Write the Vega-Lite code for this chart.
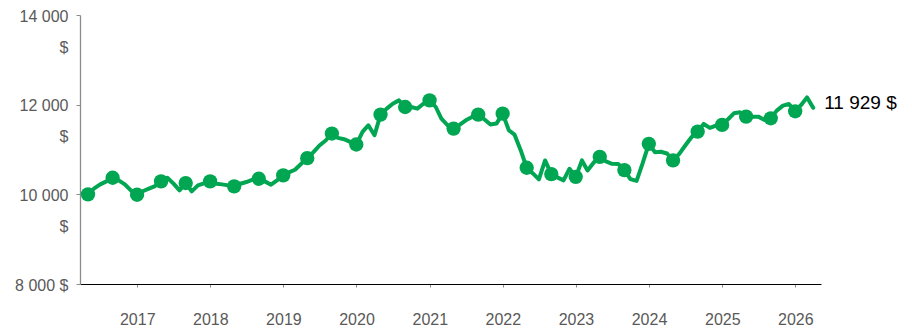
{
  "$schema": "https://vega.github.io/schema/vega-lite/v6.json",
  "width": 741,
  "height": 269,
  "autosize": {"type": "none"},
  "padding": {"left": 80, "top": 15, "right": 91, "bottom": 44},
  "background": "white",
  "config": {
    "view": {"stroke": null},
    "font": "Liberation Sans"
  },
  "datasets": {
    "series": [
      {"date": "2016-04-30", "value": 10000, "m": 1},
      {"date": "2016-05-31", "value": 10133},
      {"date": "2016-06-30", "value": 10222},
      {"date": "2016-07-31", "value": 10289},
      {"date": "2016-08-31", "value": 10370, "m": 1},
      {"date": "2016-09-30", "value": 10311},
      {"date": "2016-10-31", "value": 10222},
      {"date": "2016-11-30", "value": 10089},
      {"date": "2016-12-31", "value": 9990, "m": 1},
      {"date": "2017-01-31", "value": 10074},
      {"date": "2017-02-28", "value": 10126},
      {"date": "2017-03-31", "value": 10185},
      {"date": "2017-04-30", "value": 10289, "m": 1},
      {"date": "2017-05-31", "value": 10371},
      {"date": "2017-06-30", "value": 10244},
      {"date": "2017-07-31", "value": 10089},
      {"date": "2017-08-31", "value": 10252, "m": 1},
      {"date": "2017-09-30", "value": 10067},
      {"date": "2017-10-31", "value": 10200},
      {"date": "2017-11-30", "value": 10244},
      {"date": "2017-12-31", "value": 10289, "m": 1},
      {"date": "2018-01-31", "value": 10237},
      {"date": "2018-02-28", "value": 10222},
      {"date": "2018-03-31", "value": 10200},
      {"date": "2018-04-30", "value": 10178, "m": 1},
      {"date": "2018-05-31", "value": 10237},
      {"date": "2018-06-30", "value": 10274},
      {"date": "2018-07-31", "value": 10326},
      {"date": "2018-08-31", "value": 10348, "m": 1},
      {"date": "2018-09-30", "value": 10289},
      {"date": "2018-10-31", "value": 10215},
      {"date": "2018-11-30", "value": 10311},
      {"date": "2018-12-31", "value": 10422, "m": 1},
      {"date": "2019-01-31", "value": 10496},
      {"date": "2019-02-28", "value": 10548},
      {"date": "2019-03-31", "value": 10681},
      {"date": "2019-04-30", "value": 10807, "m": 1},
      {"date": "2019-05-31", "value": 10941},
      {"date": "2019-06-30", "value": 11089},
      {"date": "2019-07-31", "value": 11200},
      {"date": "2019-08-31", "value": 11356, "m": 1},
      {"date": "2019-09-30", "value": 11259},
      {"date": "2019-10-31", "value": 11230},
      {"date": "2019-11-30", "value": 11170},
      {"date": "2019-12-31", "value": 11111, "m": 1},
      {"date": "2020-01-31", "value": 11393},
      {"date": "2020-02-29", "value": 11541},
      {"date": "2020-03-31", "value": 11319},
      {"date": "2020-04-30", "value": 11778, "m": 1},
      {"date": "2020-05-31", "value": 11911},
      {"date": "2020-06-30", "value": 12022},
      {"date": "2020-07-31", "value": 12096},
      {"date": "2020-08-31", "value": 11948, "m": 1},
      {"date": "2020-09-30", "value": 11948},
      {"date": "2020-10-31", "value": 11911},
      {"date": "2020-11-30", "value": 12022},
      {"date": "2020-12-31", "value": 12096, "m": 1},
      {"date": "2021-01-31", "value": 11948},
      {"date": "2021-02-28", "value": 11689},
      {"date": "2021-03-31", "value": 11541},
      {"date": "2021-04-30", "value": 11467, "m": 1},
      {"date": "2021-05-31", "value": 11556},
      {"date": "2021-06-30", "value": 11652},
      {"date": "2021-07-31", "value": 11726},
      {"date": "2021-08-31", "value": 11778, "m": 1},
      {"date": "2021-09-30", "value": 11674},
      {"date": "2021-10-31", "value": 11556},
      {"date": "2021-11-30", "value": 11578},
      {"date": "2021-12-31", "value": 11800, "m": 1},
      {"date": "2022-01-31", "value": 11430},
      {"date": "2022-02-28", "value": 11333},
      {"date": "2022-03-31", "value": 10985},
      {"date": "2022-04-30", "value": 10593, "m": 1},
      {"date": "2022-05-31", "value": 10467},
      {"date": "2022-06-30", "value": 10333},
      {"date": "2022-07-31", "value": 10756},
      {"date": "2022-08-31", "value": 10452, "m": 1},
      {"date": "2022-09-30", "value": 10378},
      {"date": "2022-10-31", "value": 10311},
      {"date": "2022-11-30", "value": 10570},
      {"date": "2022-12-31", "value": 10390, "m": 1},
      {"date": "2023-01-31", "value": 10756},
      {"date": "2023-02-28", "value": 10533},
      {"date": "2023-03-31", "value": 10711},
      {"date": "2023-04-30", "value": 10836, "m": 1},
      {"date": "2023-05-31", "value": 10733},
      {"date": "2023-06-30", "value": 10681},
      {"date": "2023-07-31", "value": 10678},
      {"date": "2023-08-31", "value": 10540, "m": 1},
      {"date": "2023-09-30", "value": 10340},
      {"date": "2023-10-31", "value": 10300},
      {"date": "2023-11-30", "value": 10689},
      {"date": "2023-12-31", "value": 11126, "m": 1},
      {"date": "2024-01-31", "value": 10940},
      {"date": "2024-02-29", "value": 10950},
      {"date": "2024-03-31", "value": 10911},
      {"date": "2024-04-30", "value": 10756, "m": 1},
      {"date": "2024-05-31", "value": 10904},
      {"date": "2024-06-30", "value": 11089},
      {"date": "2024-07-31", "value": 11274},
      {"date": "2024-08-31", "value": 11400, "m": 1},
      {"date": "2024-09-30", "value": 11570},
      {"date": "2024-10-31", "value": 11481},
      {"date": "2024-11-30", "value": 11533},
      {"date": "2024-12-31", "value": 11548, "m": 1},
      {"date": "2025-01-31", "value": 11681},
      {"date": "2025-02-28", "value": 11807},
      {"date": "2025-03-31", "value": 11830},
      {"date": "2025-04-30", "value": 11733, "m": 1},
      {"date": "2025-05-31", "value": 11733},
      {"date": "2025-06-30", "value": 11733},
      {"date": "2025-07-31", "value": 11659},
      {"date": "2025-08-31", "value": 11696, "m": 1},
      {"date": "2025-09-30", "value": 11867},
      {"date": "2025-10-31", "value": 11978},
      {"date": "2025-11-30", "value": 12015},
      {"date": "2025-12-31", "value": 11852, "m": 1},
      {"date": "2026-01-31", "value": 12000},
      {"date": "2026-02-28", "value": 12163},
      {"date": "2026-03-31", "value": 11929, "label": "11 929 $"}
    ]
  },
  "data": {"name": "series"},
  "encoding": {
    "x": {
      "field": "date",
      "type": "temporal",
      "scale": {
        "type": "utc",
        "domain": [
          {"year": 2016, "month": 3, "date": 21, "utc": true},
          {"year": 2026, "month": 5, "date": 9, "utc": true}
        ]
      },
      "axis": {
        "title": null,
        "values": [
          {"year": 2017, "month": 1, "date": 1, "utc": true},
          {"year": 2018, "month": 1, "date": 1, "utc": true},
          {"year": 2019, "month": 1, "date": 1, "utc": true},
          {"year": 2020, "month": 1, "date": 1, "utc": true},
          {"year": 2021, "month": 1, "date": 1, "utc": true},
          {"year": 2022, "month": 1, "date": 1, "utc": true},
          {"year": 2023, "month": 1, "date": 1, "utc": true},
          {"year": 2024, "month": 1, "date": 1, "utc": true},
          {"year": 2025, "month": 1, "date": 1, "utc": true},
          {"year": 2026, "month": 1, "date": 1, "utc": true}
        ],
        "format": "%Y",
        "grid": false,
        "domainColor": "#000000",
        "domainWidth": 1,
        "tickColor": "#8c8c8c",
        "tickSize": 3,
        "labelPadding": 24,
        "labelFont": "Liberation Sans",
        "labelFontSize": 16,
        "labelColor": "#595959",
        "labelFlush": false,
        "labelOverlap": false
      }
    },
    "y": {
      "field": "value",
      "type": "quantitative",
      "scale": {"domain": [8000, 14000], "nice": false, "zero": false},
      "axis": {
        "title": null,
        "values": [8000, 10000, 12000, 14000],
        "labelExpr": "datum.value == 8000 ? '8 000 $' : [replace(format(datum.value, ','), ',', ' '), '$']",
        "grid": false,
        "domainColor": "#8c8c8c",
        "domainWidth": 1.3,
        "tickColor": "#8c8c8c",
        "tickSize": 4,
        "labelPadding": 8,
        "labelFont": "Liberation Sans",
        "labelFontSize": 16,
        "labelColor": "#595959",
        "labelBaseline": "top",
        "labelOffset": -7,
        "labelLineHeight": 31,
        "labelOverlap": false,
        "labelBound": false
      }
    }
  },
  "layer": [
    {
      "mark": {"type": "line", "color": "#00a651", "strokeWidth": 4, "strokeJoin": "round", "strokeCap": "round"}
    },
    {
      "transform": [{"filter": "datum.m === 1"}],
      "mark": {"type": "point", "shape": "circle", "filled": true, "size": 205, "color": "#00a651", "opacity": 1}
    },
    {
      "transform": [{"filter": "isValid(datum.label)"}],
      "mark": {"type": "text", "align": "left", "baseline": "middle", "dx": 11, "dy": -5, "fontSize": 19, "font": "Liberation Sans", "color": "#000000"},
      "encoding": {"text": {"field": "label"}}
    }
  ]
}
